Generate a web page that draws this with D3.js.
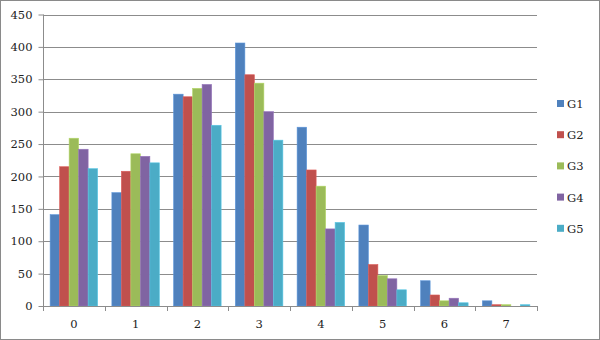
<!DOCTYPE html>
<html><head><meta charset="utf-8">
<script src="https://cdn.jsdelivr.net/npm/d3@7/dist/d3.min.js"></script>
<style>body{margin:0;background:#fff}svg{display:block}</style>
</head><body>
<script>
const categories = ["0","1","2","3","4","5","6","7"];
const seriesNames = ["G1","G2","G3","G4","G5"];
const G1 = [141,175,327,406,276,125,39,8];
const G2 = [215,208,323,357,210,64,17,2];
const G3 = [259,235,336,344,185,47,8,2];
const G4 = [242,231,342,300,119,42,12,0];
const G5 = [212,221,279,256,129,25,5,2];
const yTicks = [0,50,100,150,200,250,300,350,400,450];
const colors = ["#4F81BD","#C0504D","#9BBB59","#8064A2","#4BACC6"];
const series = [G1,G2,G3,G4,G5];

const W=600,H=340;
const svg=d3.select("body").append("svg").attr("width",W).attr("height",H);
svg.append("rect").attr("x",0.5).attr("y",0.5).attr("width",W-1).attr("height",H-1)
  .attr("fill","#fff").attr("stroke","#8a8a8a");

const L=43,R=537,T=14.5,B=306;
const x=d3.scaleBand().domain(categories).range([L,R]).paddingInner(0).paddingOuter(0);
const y=d3.scaleLinear().domain([0,450]).range([B,T]);
const font="DejaVu Serif";

// gridlines
svg.append("g").selectAll("line").data(yTicks.filter(d=>d>0)).join("line")
  .attr("x1",L).attr("x2",R).attr("y1",d=>Math.round(y(d))+0.5).attr("y2",d=>Math.round(y(d))+0.5)
  .attr("stroke","#8c8c8c").attr("stroke-width",1);

// bars
const inner=d3.scaleBand().domain(seriesNames).range([0,x.bandwidth()]).paddingInner(0).paddingOuter(0.75/1*1);
// custom: bar width = band/(5+1.5)
const bw=x.bandwidth()/6.5;
const sub=d3.scaleBand().domain(seriesNames).range([0.75*bw,0.75*bw+5*bw]);
series.forEach((s,i)=>{
  svg.append("g").selectAll("rect").data(s).join("rect")
    .attr("x",(d,j)=>x(categories[j])+sub(seriesNames[i]))
    .attr("width",sub.bandwidth())
    .attr("y",d=>y(d)).attr("height",d=>B-y(d))
    .attr("fill",colors[i])
    .attr("stroke",d3.color(colors[i]).brighter(0.4)).attr("stroke-width",0.6);
});

// y axis
const ya=svg.append("g").attr("transform",`translate(${L+0.5},0)`)
  .call(d3.axisLeft(y).tickValues(yTicks).tickSize(5).tickPadding(6));
ya.select(".domain").attr("stroke","#8c8c8c").attr("d",`M-0,${B}V${T}`);
ya.selectAll(".tick line").attr("stroke","#8c8c8c");
ya.selectAll(".tick text").attr("font-family",font).attr("font-size",11.5).attr("fill","#222");

// x axis
const xa=svg.append("g").attr("transform",`translate(0,${B+0.5})`)
  .call(d3.axisBottom(x).tickSize(0).tickPadding(13));
xa.select(".domain").attr("stroke","#8c8c8c").attr("d",`M${L},0H${R}`);
xa.selectAll(".tick text").attr("font-family",font).attr("font-size",11.5).attr("fill","#222");
svg.append("g").selectAll("line").data(d3.range(categories.length+1)).join("line")
  .attr("x1",d=>Math.round(L+d*x.step())+0.5).attr("x2",d=>Math.round(L+d*x.step())+0.5)
  .attr("y1",B).attr("y2",B+5).attr("stroke","#8c8c8c");

// legend
const lg=svg.append("g").selectAll("g").data(seriesNames).join("g")
  .attr("transform",(d,i)=>`translate(557,${104+i*31.2})`);
lg.append("rect").attr("x",0).attr("y",-4).attr("width",7).attr("height",7).attr("fill",(d,i)=>colors[i]);
lg.append("text").attr("x",10).attr("y",0).attr("dy","0.35em").text(d=>d)
  .attr("font-family",font).attr("font-size",11.5).attr("fill","#222");
</script>
</body></html>
